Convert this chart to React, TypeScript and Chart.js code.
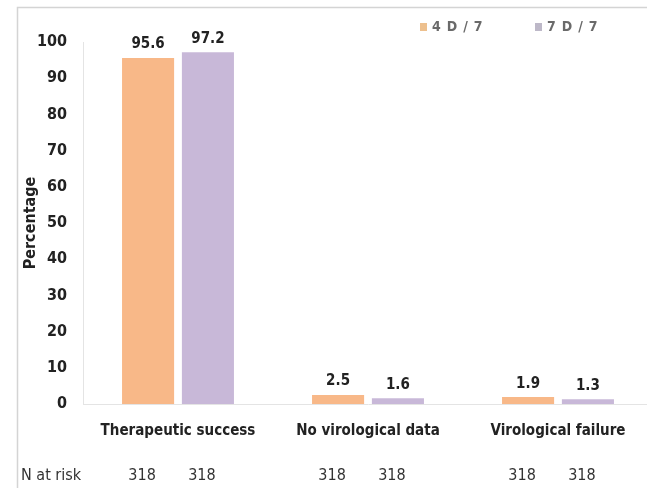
import React, { useEffect, useRef } from "react";
import { Chart, registerables } from "chart.js";

Chart.register(...registerables);

const categories = ["Therapeutic success", "No virological data", "Virological failure"];
const seriesNames = ["4 D / 7", "7 D / 7"];
const values4D = [95.6, 2.5, 1.9];
const values7D = [97.2, 1.6, 1.3];
const atRisk4D = [318, 318, 318];
const atRisk7D = [318, 318, 318];
const yTicks = [0, 10, 20, 30, 40, 50, 60, 70, 80, 90, 100];
const atRiskLabel = "N at risk";

const FONT = "'Liberation Sans Narrow', 'DejaVu Sans Condensed', 'Liberation Sans', sans-serif";
const ORANGE = "#F8B888";
const PURPLE = "#C8B8D8";
const LEGEND_COLORS = ["#EDC08E", "#BDB8C8"];

const extrasPlugin = {
  id: "extras",
  beforeDraw(chart: any) {
    const ctx = chart.ctx;
    ctx.save();
    ctx.strokeStyle = "#d4d4d4";
    ctx.lineWidth = 1.5;
    ctx.strokeRect(17.5, 7.5, 900, 900);
    ctx.restore();
  },
  afterDatasetsDraw(chart: any) {
    const ctx = chart.ctx;
    ctx.save();
    ctx.fillStyle = "#222";
    ctx.textAlign = "center";
    ctx.textBaseline = "bottom";
    ctx.font = `bold 15px ${FONT}`;
    chart.data.datasets.forEach((ds: any, di: number) => {
      const meta = chart.getDatasetMeta(di);
      meta.data.forEach((bar: any, i: number) => {
        ctx.fillText(String(ds.data[i]), bar.x, bar.y - 6);
      });
    });
    // N at risk row
    const rows = [atRisk4D, atRisk7D];
    ctx.font = `16px ${FONT}`;
    ctx.fillStyle = "#333";
    ctx.textBaseline = "middle";
    rows.forEach((row, di) => {
      const meta = chart.getDatasetMeta(di);
      meta.data.forEach((bar: any, i: number) => {
        ctx.fillText(String(row[i]), bar.x - 6, 476);
      });
    });
    ctx.textAlign = "left";
    ctx.fillText(atRiskLabel, 21, 476);

    // legend
    const starts = [chart.chartArea.right - 233, chart.chartArea.right - 118];
    ctx.font = `bold 14px ${FONT}`;
    (ctx as any).letterSpacing = "0.8px";
    chart.data.datasets.forEach((ds: any, di: number) => {
      const x = starts[di];
      ctx.fillStyle = LEGEND_COLORS[di];
      ctx.fillRect(x, 23, 7, 8);
      ctx.fillStyle = "#6a6a6a";
      ctx.fillText(ds.label, x + 12, 27);
    });
    ctx.restore();
  },
};

export default function App() {
  const ref = useRef<HTMLCanvasElement>(null);
  useEffect(() => {
    if (!ref.current) return;
    const chart = new Chart(ref.current, {
      type: "bar",
      data: {
        labels: categories,
        datasets: [
          {
            label: seriesNames[0],
            data: values4D,
            backgroundColor: ORANGE,
            categoryPercentage: 0.63,
            barPercentage: 0.87,
          },
          {
            label: seriesNames[1],
            data: values7D,
            backgroundColor: PURPLE,
            categoryPercentage: 0.63,
            barPercentage: 0.87,
          },
        ],
      },
      plugins: [extrasPlugin],
      options: {
        animation: false,
        responsive: true,
        maintainAspectRatio: false,
        layout: { padding: { left: 0, right: 2, top: 42, bottom: 0 } },
        plugins: {
          tooltip: { enabled: false },
          legend: { display: false },
        },
        scales: {
          x: {
            grid: { display: false, drawTicks: false },
            border: { display: true, color: "#e4e4e4" },
            ticks: {
              color: "#222",
              padding: 18,
              font: { family: FONT, size: 15, weight: "bold" },
            },
            afterFit(scale: any) {
              scale.height = 84;
            },
          },
          y: {
            min: 0,
            max: 100,
            afterBuildTicks(scale: any) {
              scale.ticks = yTicks.map((v) => ({ value: v }));
            },
            grid: { display: false, drawTicks: false },
            border: { display: true, color: "#e4e4e4" },
            ticks: {
              color: "#222",
              padding: 16,
              font: { family: FONT, size: 16, weight: "bold" },
            },
            title: {
              display: true,
              text: "Percentage",
              color: "#222",
              padding: { top: 21, bottom: 0 },
              font: { family: FONT, size: 16, weight: "bold" },
            },
            afterFit(scale: any) {
              scale.width = 83;
            },
          },
        },
      },
    });
    return () => chart.destroy();
  }, []);
  return (
    <div style={{ position: "fixed", left: 0, top: 0, width: 655, height: 488, background: "#fff", overflow: "hidden" }}>
      <canvas ref={ref} />
    </div>
  );
}
